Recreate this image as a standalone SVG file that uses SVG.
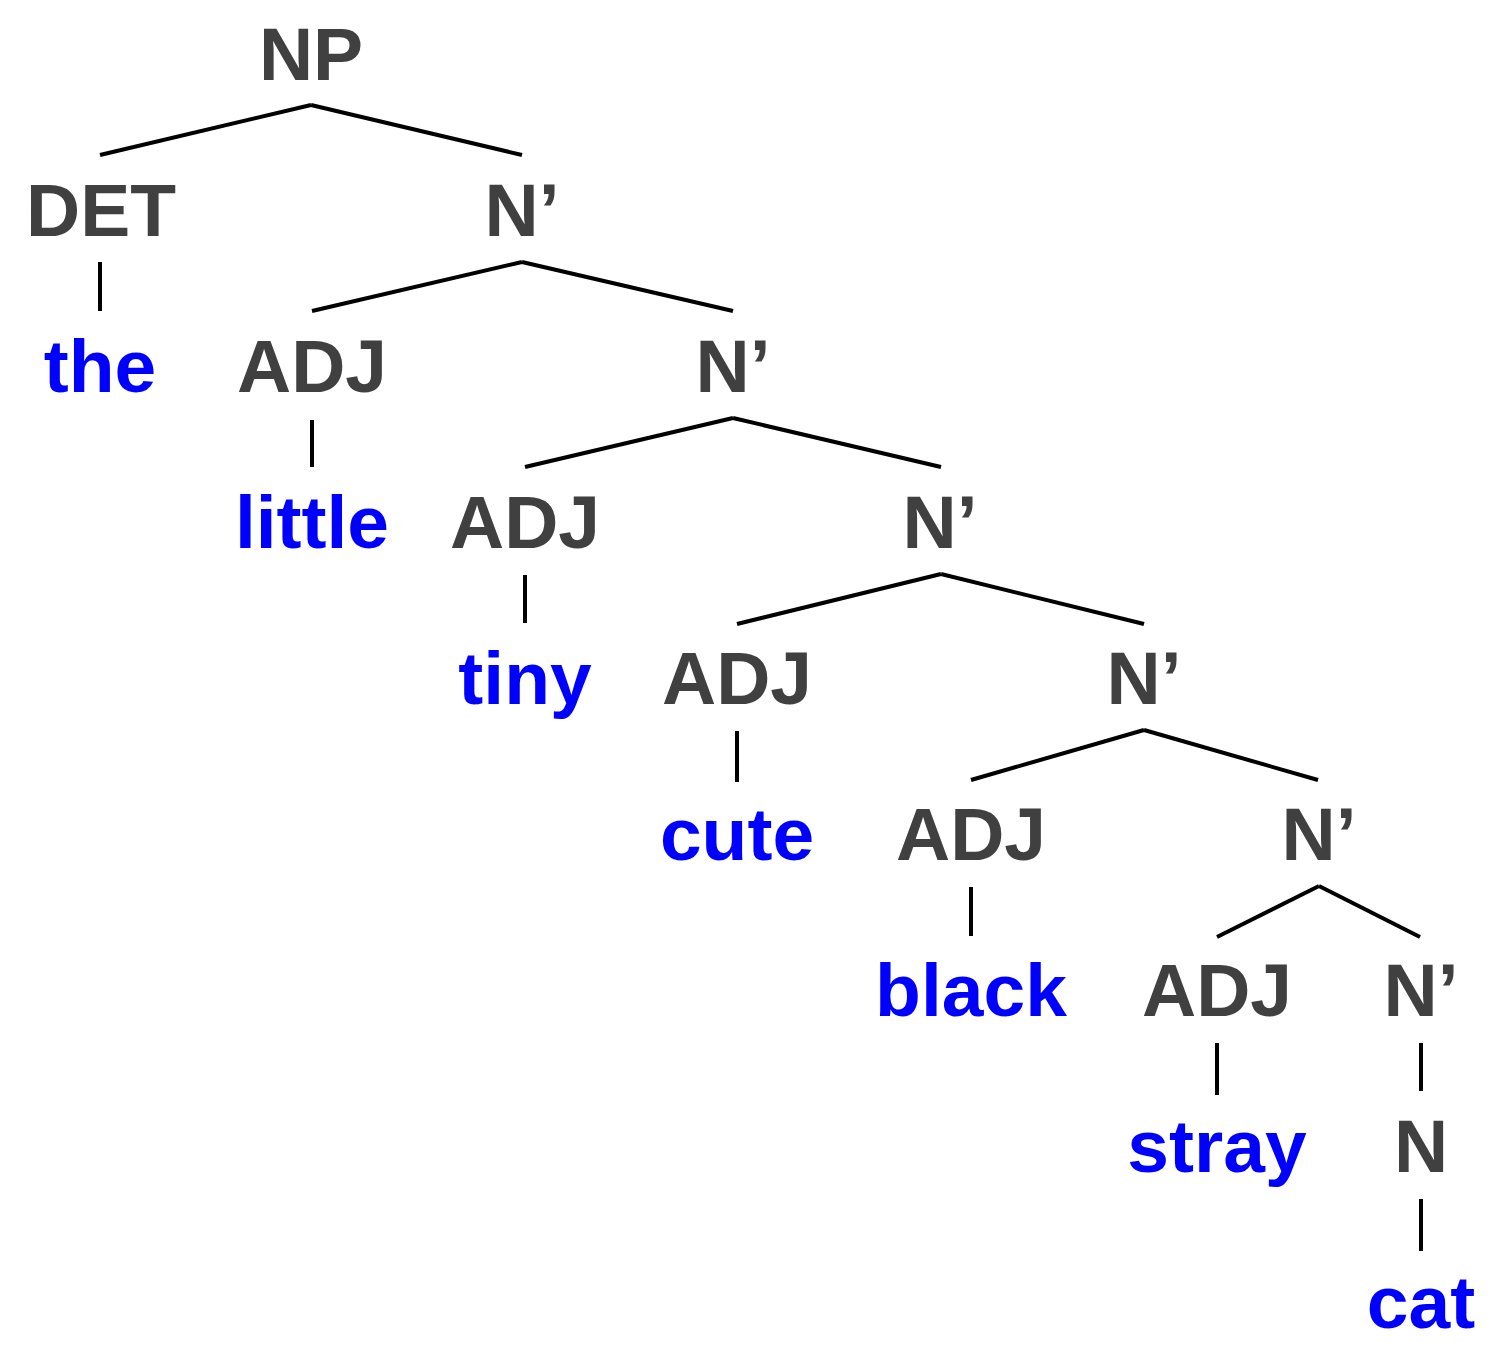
<svg xmlns="http://www.w3.org/2000/svg" width="1500" height="1355" viewBox="0 0 1500 1355">
  <style>
    text { font-family: "Liberation Sans", Arial, Helvetica, sans-serif; font-weight: bold; font-size: 75px; text-anchor: middle; }
    .cat { fill: #404040; }
    .word { fill: #0000ff; }
    .edges line { stroke: #000; stroke-width: 4; stroke-linecap: butt; }
  </style>
  <rect width="1500" height="1355" fill="#fff"/>

  <!-- tree branches -->
  <g id="connectors" class="edges">
    <line x1="311" y1="105" x2="100" y2="155"/>
    <line x1="311" y1="105" x2="522" y2="155"/>
    <line x1="100" y1="262" x2="100" y2="311"/>
    <line x1="522" y1="262" x2="312" y2="311"/>
    <line x1="522" y1="262" x2="733" y2="311"/>
    <line x1="312" y1="420" x2="312" y2="467"/>
    <line x1="733" y1="418" x2="525" y2="467"/>
    <line x1="733" y1="418" x2="941" y2="467"/>
    <line x1="525" y1="575" x2="525" y2="623"/>
    <line x1="941" y1="574" x2="737" y2="624"/>
    <line x1="941" y1="574" x2="1144" y2="624"/>
    <line x1="737" y1="731" x2="737" y2="782"/>
    <line x1="1144" y1="730" x2="971" y2="780"/>
    <line x1="1144" y1="730" x2="1318" y2="780"/>
    <line x1="971" y1="887" x2="971" y2="936"/>
    <line x1="1319" y1="886" x2="1217" y2="937"/>
    <line x1="1319" y1="886" x2="1420" y2="937"/>
    <line x1="1217" y1="1043" x2="1217" y2="1095"/>
    <line x1="1421" y1="1043" x2="1421" y2="1091"/>
    <line x1="1421" y1="1199" x2="1421" y2="1251"/>
  </g>

  <!-- nodes -->
  <g id="np"><text class="cat" x="311" y="80">NP</text></g>
  <g id="det"><text class="cat" x="101" y="236">DET</text></g>
  <g id="the"><text class="word" x="100" y="392">the</text></g>
  <g id="nbar1"><text class="cat" x="522" y="236">N’</text></g>
  <g id="adj1"><text class="cat" x="312" y="392">ADJ</text></g>
  <g id="little"><text class="word" x="312" y="548">little</text></g>
  <g id="nbar2"><text class="cat" x="733" y="392">N’</text></g>
  <g id="adj2"><text class="cat" x="525" y="548">ADJ</text></g>
  <g id="tiny"><text class="word" x="525" y="704">tiny</text></g>
  <g id="nbar3"><text class="cat" x="940" y="548">N’</text></g>
  <g id="adj3"><text class="cat" x="737" y="704">ADJ</text></g>
  <g id="cute"><text class="word" x="737" y="860">cute</text></g>
  <g id="nbar4"><text class="cat" x="1144" y="704">N’</text></g>
  <g id="adj4"><text class="cat" x="971" y="860">ADJ</text></g>
  <g id="black"><text class="word" x="971" y="1016">black</text></g>
  <g id="nbar5"><text class="cat" x="1319" y="860">N’</text></g>
  <g id="adj5"><text class="cat" x="1217" y="1016">ADJ</text></g>
  <g id="stray"><text class="word" x="1217" y="1172">stray</text></g>
  <g id="nbar6"><text class="cat" x="1421" y="1016">N’</text></g>
  <g id="n"><text class="cat" x="1421" y="1172">N</text></g>
  <g id="cat"><text class="word" x="1421" y="1328">cat</text></g>
</svg>
